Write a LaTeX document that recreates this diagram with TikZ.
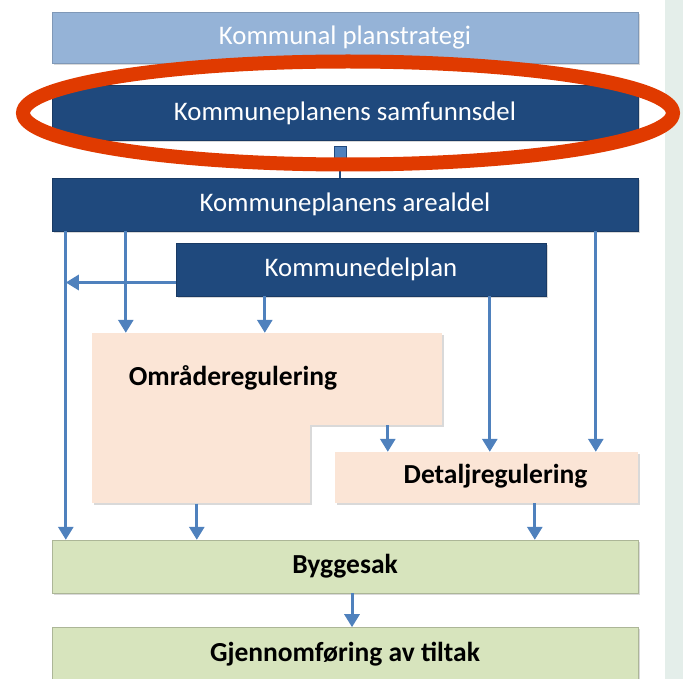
\documentclass[tikz,border=0pt]{standalone}
\usepackage{fontspec}
\setmainfont{Carlito}
\usetikzlibrary{arrows.meta,positioning,shadows}
\definecolor{lysbla}{HTML}{95B3D7}
\definecolor{morkbla}{HTML}{1F497D}
\definecolor{pilbla}{HTML}{4F81BD}
\definecolor{fersken}{HTML}{FBE5D6}
\definecolor{lysgronn}{HTML}{D7E4BD}
\definecolor{rodring}{HTML}{E03A00}
\definecolor{stripe}{HTML}{E4EEEA}

\begin{document}
\begin{tikzpicture}[
x=1pt, y=-1pt,
boks/.style={rectangle, inner sep=0pt, minimum width=586pt, minimum height=53pt,
  font=\fontsize{26.8}{31}\selectfont, drop shadow={shadow xshift=2pt, shadow yshift=-2pt, opacity=0.3}},
overst/.style={boks, fill=lysbla, draw=lysbla!85!black, text=white},
mork/.style={boks, fill=morkbla, draw=morkbla!80!black, text=white},
fersk/.style={boks, fill=fersken},
gronn/.style={boks, fill=lysgronn, draw=lysgronn!80!black, font=\fontsize{27.5}{31}\selectfont\bfseries},
fet/.style={font=\fontsize{27.5}{31}\selectfont\bfseries},
pil/.style={-{Triangle[length=13pt, width=15pt]}, line width=3pt, pilbla}
]
\useasboundingbox (0,0) rectangle (683,679);
\fill[stripe] (665,0) rectangle (683,679);

% boksene
\node[overst, minimum height=51pt] (planstrategi) at (345,37.5) {Kommunal planstrategi};
\node[mork, minimum height=55pt, below=22pt of planstrategi] (samfunnsdel) {Kommuneplanens samfunnsdel};
\node[mork, below=37pt of samfunnsdel] (arealdel) {Kommuneplanens arealdel};
\node[mork, minimum width=370pt] (delplan) at (361,269.5) {Kommunedelplan\hspace{14pt}};
\node[fersk, minimum width=350pt, minimum height=92pt] (omrade) at (267,379) {};
\node[fersk, minimum width=218pt, minimum height=78pt, anchor=north west] (omradefot) at (omrade.south west) {};
\node[fet] (omradetekst) at (233,378) {Områderegulering};
\node[fersk, minimum width=303pt, minimum height=51pt] (detalj) at (486.5,477.5) {};
\node[fet] (detaljtekst) at (495.5,476) {Detaljregulering};
\node[gronn] (byggesak) at (345,566.5) {Byggesak};
\node[gronn, below=34pt of byggesak] (gjennom) {Gjennomføring av tiltak};
\node[rectangle, inner sep=0pt, minimum size=12pt, fill=pilbla, draw=morkbla] (kobling) at (340,152) {};

% pilene
\draw[line width=1.2pt, morkbla] (kobling) -- (kobling |- arealdel.north);
\draw[pil] ([xshift=14pt]arealdel.south west) coordinate (venstre) -- (venstre |- byggesak.north);
\draw[pil] ([xshift=74pt]arealdel.south west) coordinate (a1) -- (a1 |- omrade.north);
\draw[pil] ([xshift=544pt]arealdel.south west) coordinate (a2) -- (a2 |- detalj.north);
\draw[pil] ([yshift=-13pt]delplan.west) -- ([yshift=-13pt]delplan.west -| venstre);
\draw[pil] ([xshift=89pt]delplan.south west) coordinate (d1) -- (d1 |- omrade.north);
\draw[pil] ([xshift=314pt]delplan.south west) coordinate (d2) -- (d2 |- detalj.north);
\draw[pil] ([xshift=296pt]omrade.south west) coordinate (o1) -- (o1 |- detalj.north);
\draw[pil] ([xshift=105pt]omradefot.south west) coordinate (o2) -- (o2 |- byggesak.north);
\draw[pil] ([xshift=200pt]detalj.south west) coordinate (e1) -- (e1 |- byggesak.north);
\draw[pil] ([xshift=7pt]byggesak.south) -- ([xshift=7pt]gjennom.north);

% markering
\draw[rodring, line width=14pt] (348,113) ellipse [x radius=325, y radius=51.5];
\end{tikzpicture}
\end{document}
